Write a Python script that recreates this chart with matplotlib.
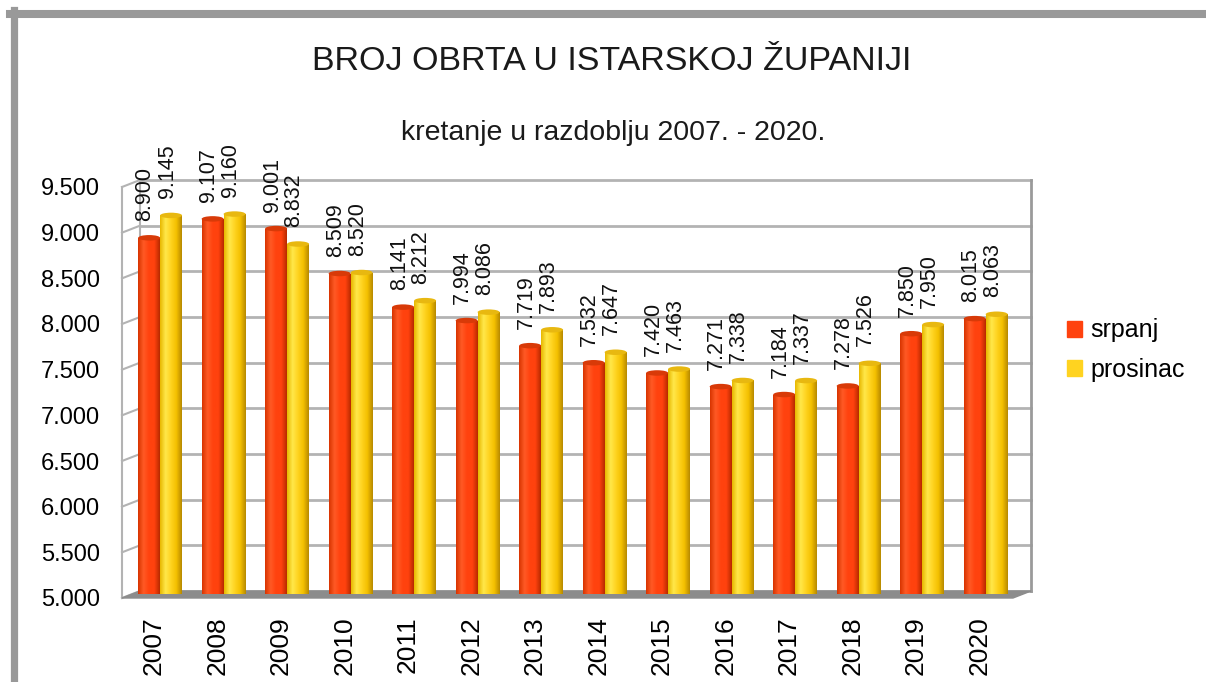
import matplotlib.pyplot as plt
import numpy as np
from matplotlib.colors import LinearSegmentedColormap
from matplotlib.lines import Line2D
from matplotlib.patches import Ellipse, Polygon
from matplotlib.transforms import ScaledTranslation

plt.rcParams['font.family'] = ['Liberation Sans', 'DejaVu Sans']

years = ['2007', '2008', '2009', '2010', '2011', '2012', '2013',
         '2014', '2015', '2016', '2017', '2018', '2019', '2020']
srpanj = [8900, 9107, 9001, 8509, 8141, 7994, 7719,
          7532, 7420, 7271, 7184, 7278, 7850, 8015]
prosinac = [9145, 9160, 8832, 8520, 8212, 8086, 7893,
            7647, 7463, 7338, 7337, 7526, 7950, 8063]
yticks = [5000, 5500, 6000, 6500, 7000, 7500, 8000, 8500, 9000, 9500]


def fmt(v):
    return f'{v:,}'.replace(',', '.')


W, H = 1206, 682
fig = plt.figure(figsize=(W / 100, H / 100), dpi=100)
ax = fig.add_axes([122 / W, 1 - 598 / H, (1013 - 122) / W, (598 - 187) / H])
ax.set_xlim(-0.6, 13.43)
ax.set_ylim(5000, 9500)

# back wall offset (18 px right, 7 px up) in data units
dx = 18 / (891 / 14.03)
dy = 7 / (411 / 4500)
x0, x1 = ax.get_xlim()
grid_c = '#b3b3b3'
for t in yticks:
    ax.add_line(Line2D([x0 + dx, x1 + dx], [t + dy, t + dy], color=grid_c, lw=2, zorder=1, clip_on=False))
    ax.add_line(Line2D([x0, x0 + dx], [t, t + dy], color=grid_c, lw=1.5, zorder=1, clip_on=False))
ax.add_line(Line2D([x0, x0], [5000, 9500], color=grid_c, lw=1.5, zorder=1, clip_on=False))
ax.add_line(Line2D([x0 + dx, x0 + dx], [5000 + dy, 9500 + dy], color=grid_c, lw=1.5, zorder=1, clip_on=False))
ax.add_line(Line2D([x1 + dx, x1 + dx], [5000 + dy, 9500 + dy], color='#9a9a9a', lw=2, zorder=1, clip_on=False))
floor = Polygon([[x0, 5000], [x1, 5000], [x1 + dx, 5000 + dy], [x0 + dx, 5000 + dy]],
                closed=True, facecolor='#8c8c8c', edgecolor='#8c8c8c', zorder=2, clip_on=False)
ax.add_patch(floor)

# bars sit a few pixels deeper in the 3d box
up = ax.transData + ScaledTranslation(0, 4 / 100, fig.dpi_scale_trans)

x = np.arange(len(years))
bw = 0.346
red_cm = LinearSegmentedColormap.from_list('r', ['#d83400', '#ff5a25', '#ff420e', '#ff420e', '#b82a00'])
yel_cm = LinearSegmentedColormap.from_list('y', ['#e8b800', '#ffe84a', '#ffd320', '#f4c000', '#b88a00'])
grad = np.linspace(0, 1, 64).reshape(1, -1)

for vals, shift, color, cmap, cap in [(srpanj, -bw / 2, '#ff420e', red_cm, '#d83a08'),
                                      (prosinac, bw / 2, '#ffd320', yel_cm, '#e8b810')]:
    bars = ax.bar(x + shift, np.array(vals) - 5000, bw, bottom=5000, color=color, zorder=3)
    for b, v in zip(bars, vals):
        b.set_transform(up)
        im = ax.imshow(grad, cmap=cmap, aspect='auto', zorder=3.5,
                       extent=[b.get_x(), b.get_x() + b.get_width(), 5000, v])
        im.set_transform(up)
        im.set_clip_path(b)
        ax.add_patch(Ellipse((b.get_x() + b.get_width() / 2, v), b.get_width(), 60,
                             facecolor=cap, edgecolor='none', zorder=4, transform=up))
        ax.annotate(fmt(v), (b.get_x() + b.get_width() / 2, v), xytext=(-4, 21),
                    textcoords='offset pixels', rotation=90, ha='center', va='bottom',
                    fontsize=15.5, color='#111111')

ax.set_xlim(x0, x1)
ax.set_ylim(5000, 9500)
ax.set_yticks(yticks)
ax.set_yticklabels([fmt(t) for t in yticks], fontsize=17)
ax.set_xticks(x - 0.1)
ax.set_xticklabels(years, rotation=90, fontsize=19)
ax.tick_params(axis='y', length=0, pad=16)
ax.tick_params(axis='x', length=0, pad=13)
for s in ax.spines.values():
    s.set_visible(False)
ax.patch.set_visible(False)

fig.text(612 / W, 1 - 62 / H, 'BROJ OBRTA U ISTARSKOJ ŽUPANIJI', ha='center', va='center',
         fontsize=24.5, color='#1a1a1a')
fig.text(613 / W, 1 - 133 / H, 'kretanje u razdoblju 2007. - 2020.', ha='center', va='center',
         fontsize=20.5, color='#1a1a1a')

handles = [plt.Rectangle((0, 0), 1, 1, color='#ff420e'), plt.Rectangle((0, 0), 1, 1, color='#ffd320')]
fig.legend(handles, ['srpanj', 'prosinac'], loc='center left', bbox_to_anchor=(1062 / W, 1 - 350 / H),
           frameon=False, fontsize=18, handlelength=0.6, handleheight=0.6, handletextpad=0.35,
           labelspacing=0.6, borderpad=0.2, borderaxespad=0)

# outer grey frame
fig.add_artist(Line2D([10 / W, 1], [1 - 14 / H, 1 - 14 / H], color='#999999', lw=5.8))
fig.add_artist(Line2D([13.5 / W, 13.5 / W], [0, 1 - 10 / H], color='#999999', lw=5.2))

fig.savefig('out.png', dpi=100)
